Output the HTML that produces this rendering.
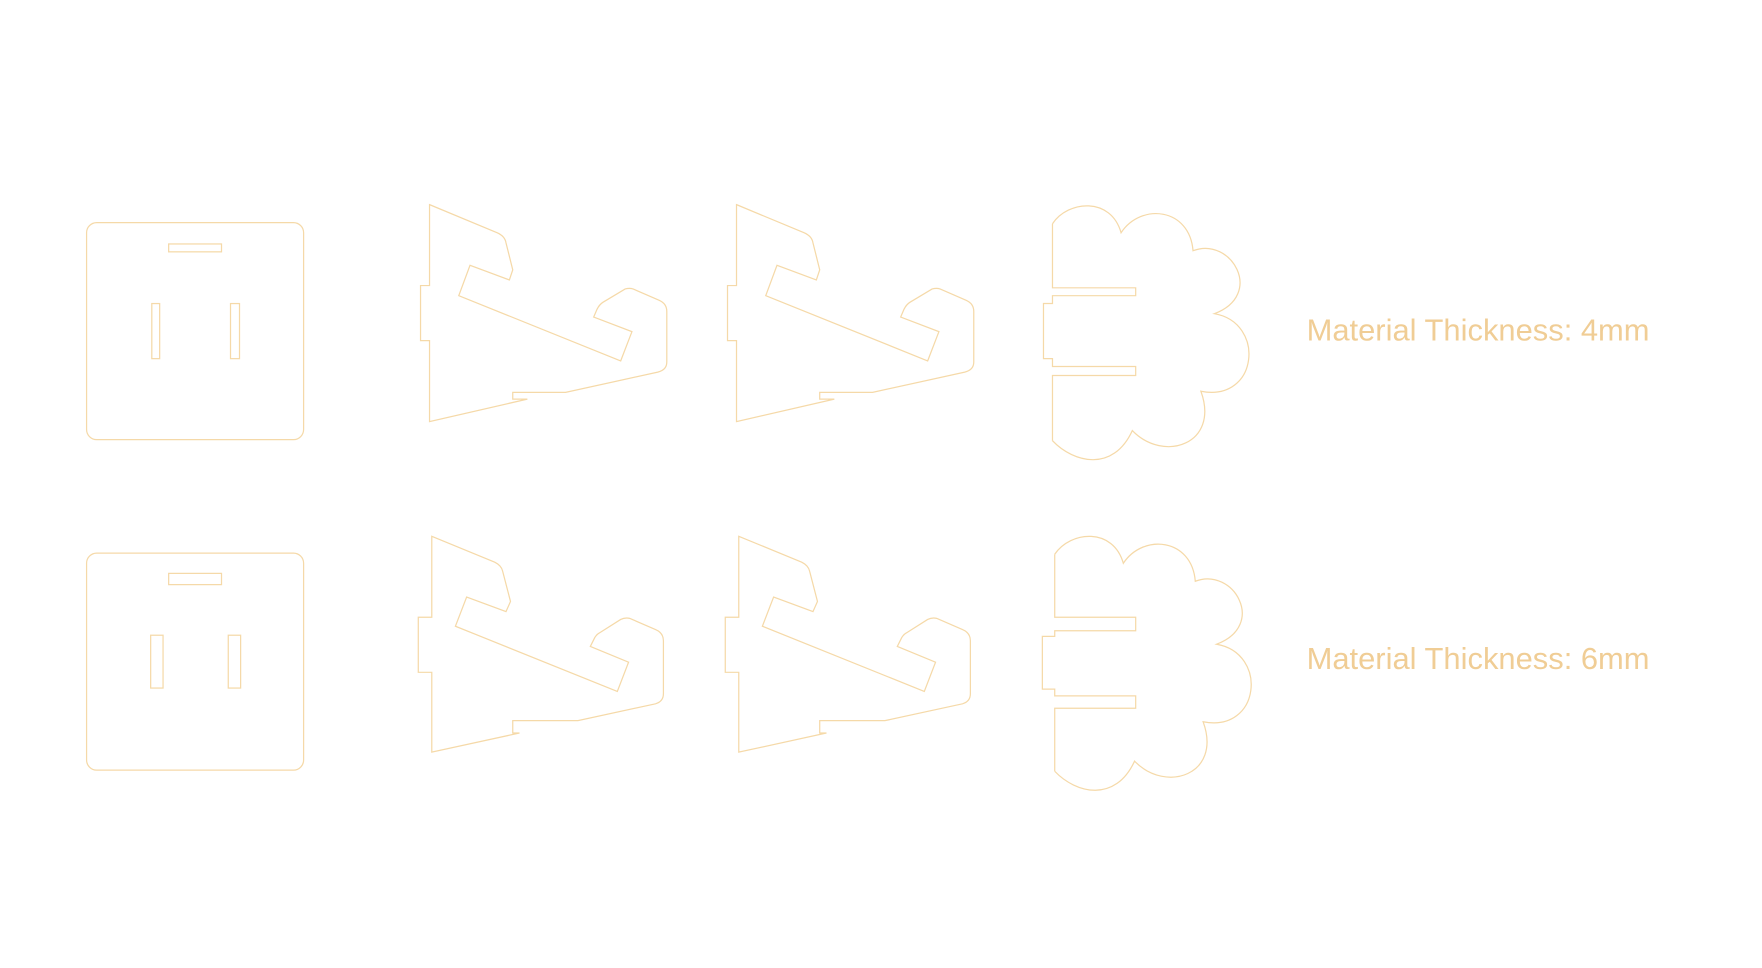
<!DOCTYPE html>
<html><head><style>html,body{margin:0;padding:0;background:#fff;}svg{display:block}</style></head>
<body>
<svg width="1762" height="968" viewBox="0 0 1567 861" preserveAspectRatio="none" xmlns="http://www.w3.org/2000/svg">
<defs>
<g id="cloud">
<path d="M936,199 C950,178 988,175 997,207 C1015,180 1058,185 1061,223 C1095,210 1125,262 1080,279 C1126,287 1119,358 1068,348 C1085,395 1035,412 1007,383 C990,420 955,412 936,392"/>
</g>
</defs>
<g fill="none" stroke="#f5d9a8" stroke-width="1.1">
<rect x="77" y="198" width="193" height="193" rx="9"/>
<rect x="150" y="217" width="47" height="7"/>
<rect x="135" y="270" width="7" height="49"/>
<rect x="205" y="270" width="8" height="49"/>
<path d="M382,182 L442,207 Q449,210 450,216 L456,240 L453,249 L418,236 L408,263 L552,321 L562,295 L528,282 L531,275 Q533,271 536,269 L556,257 Q560,256 563,257 L586,267 Q593,270 593,277 L593,322 Q593,329 585,331 L503,349 L456,349 L456,355 L469,355 L382,375 L382,303 L374,303 L374,254 L382,254 Z"/>
<path transform="translate(273,0)" d="M382,182 L442,207 Q449,210 450,216 L456,240 L453,249 L418,236 L408,263 L552,321 L562,295 L528,282 L531,275 Q533,271 536,269 L556,257 Q560,256 563,257 L586,267 Q593,270 593,277 L593,322 Q593,329 585,331 L503,349 L456,349 L456,355 L469,355 L382,375 L382,303 L374,303 L374,254 L382,254 Z"/>
<use href="#cloud"/>
<path d="M936,199 L936,256 L1010,256 L1010,263 L936,263 L936,270 L928,270 L928,319 L936,319 L936,326 L1010,326 L1010,334 L936,334 L936,392"/>
<rect x="77" y="492" width="193" height="193" rx="9"/>
<rect x="150" y="510" width="47" height="10"/>
<rect x="134" y="565" width="11" height="47"/>
<rect x="203" y="565" width="11" height="47"/>
<path d="M384,477 L440,500 Q446,503 447,508 L454,535 L450,544 L415,531 L405,557 L549,615 L559,589 L525,575 L529,567 Q531,564 533,563 L552,551 Q556,549 560,550 L583,560 Q590,563 590,570 L590,617 Q590,624 583,626 L514,641 L456,641 L456,652 L462,652 L384,669 L384,598 L372,598 L372,549 L384,549 Z"/>
<path transform="translate(273,0)" d="M384,477 L440,500 Q446,503 447,508 L454,535 L450,544 L415,531 L405,557 L549,615 L559,589 L525,575 L529,567 Q531,564 533,563 L552,551 Q556,549 560,550 L583,560 Q590,563 590,570 L590,617 Q590,624 583,626 L514,641 L456,641 L456,652 L462,652 L384,669 L384,598 L372,598 L372,549 L384,549 Z"/>
<use href="#cloud" transform="translate(2,294)"/>
<path d="M938,493 L938,549 L1010,549 L1010,561 L938,561 L938,566 L927,566 L927,613 L938,613 L938,619 L1010,619 L1010,630 L938,630 L938,686"/>
</g>
<g fill="#f0cd95" font-family="'Liberation Sans', sans-serif" font-size="27.5">
<text x="1162" y="303">Material Thickness: 4mm</text>
<text x="1162" y="595">Material Thickness: 6mm</text>
</g>
</svg>
</body></html>
